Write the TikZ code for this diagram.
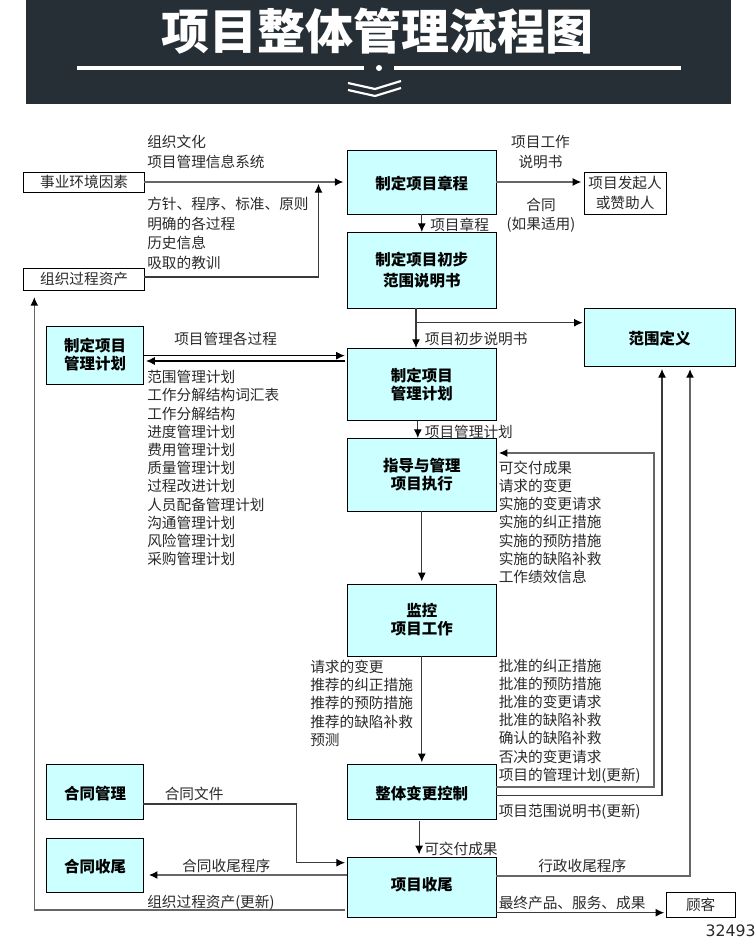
\documentclass[tikz,border=0pt]{standalone}
\usepackage{fontspec}
\setmainfont{Noto Sans CJK SC}
\newfontfamily\numfont{DejaVu Sans}
\usetikzlibrary{arrows.meta}
\definecolor{bandcolor}{HTML}{262F35}
\definecolor{boxcolor}{HTML}{CCFFFF}
\definecolor{txtcolor}{HTML}{2A2A2A}
\definecolor{flowcolor}{HTML}{3A3A3A}
\definecolor{greycolor}{HTML}{666666}
\tikzset{
	procbox/.style={draw, fill=boxcolor, line width=0.7pt, inner sep=0pt, outer sep=0pt, align=center,
		font=\fontsize{11.6}{13.5}\selectfont\bfseries, minimum width=111.5pt,
		execute at begin node={\rule{0pt}{12.5pt}}},
	twoline/.style={execute at begin node={\rule{0pt}{14.5pt}}},
	sidebox/.style={procbox, minimum width=72.5pt},
	srcbox/.style={draw, fill=white, line width=0.7pt, inner sep=0pt, outer sep=0pt, align=center,
		text=txtcolor, font=\fontsize{11}{15}\selectfont},
	lbl/.style={inner sep=0pt, anchor=west, align=left, text=txtcolor, font=\fontsize{11}{13.65}\selectfont},
	lblwide/.style={lbl, font=\fontsize{11}{14.6}\selectfont},
	flow/.style={->, draw=flowcolor, line width=0.8pt},
	greyflow/.style={flow, draw=greycolor, line width=1.1pt},
}
\begin{document}
\begin{tikzpicture}[x=0.75pt, y=-0.75pt, >={Latex[length=6.5pt,width=6pt,color=black]}]
	\useasboundingbox (0,0) rectangle (756,945);

	\fill[bandcolor] (26,0) rectangle (731,104);
	\node[text=white, inner sep=0pt, font=\fontsize{36}{40}\selectfont\bfseries] (title) at (377,31) {项目整体管理流程图};
	\fill[white] (77,66.5) rectangle (364,70.5);
	\fill[white] (394,66.5) rectangle (681,70.5);
	\fill[white] (379,68) circle (3);
	\draw[white, line width=1.6pt] (348,83) -- (375,89) -- (401,81);
	\draw[white, line width=1.6pt] (348,90) -- (375,96) -- (401,88);

	\node[srcbox, minimum width=90.4pt, minimum height=15pt] (env) at (84.1,182) {事业环境因素};
	\node[srcbox, minimum width=90.4pt, minimum height=16.5pt] (assets) at (84.1,279) {组织过程资产};
	\node[srcbox, minimum width=61.6pt, minimum height=31.5pt] (sponsor) at (625.1,193) {项目发起人\\或赞助人};
	\node[srcbox, minimum width=51.75pt, minimum height=18.75pt] (customer) at (700.7,904.5) {顾客};

	\node[procbox, minimum height=48pt] (charter) at (421.8,182) {制定项目章程};
	\node[procbox, minimum height=57pt] (prelim) at (421.8,270) {制定项目初步\\[2.5pt]范围说明书};
	\node[procbox, twoline, minimum height=54.5pt] (plan) at (421.8,384.3) {制定项目\\管理计划};
	\node[procbox, twoline, minimum height=54.75pt] (direct) at (421.8,474.5) {指导与管理\\项目执行};
	\node[procbox, twoline, minimum height=54pt] (monitor) at (421.8,620) {监控\\项目工作};
	\node[procbox, minimum height=40.9pt] (icc) at (421.8,792.2) {整体变更控制};
	\node[procbox, minimum height=45pt] (closure) at (421.8,887) {项目收尾\rule[-7.5pt]{0pt}{7.5pt}};

	\node[procbox, minimum width=113.4pt, minimum height=44pt] (scope) at (659.6,337.3) {范围定义};
	\node[sidebox, twoline, minimum height=43.5pt] (planside) at (95.1,355) {制定项目\\管理计划};
	\node[sidebox, minimum height=40.9pt] (contract) at (95.1,792.2) {合同管理};
	\node[sidebox, minimum height=40.5pt] (contractend) at (95.1,865) {合同收尾};

	\coordinate (assetsin) at (318.5,184);
	\coordinate (branch) at (416,322.7);
	\coordinate (feedturn) at (654,787);
	\coordinate (scopein) at (662,369);
	\coordinate (adminin) at (690,369);
	\coordinate (contractturn) at (296.6,804);
	\coordinate (contractin) at (345,862.7);
	\coordinate (assetsback) at (34.3,297);

	\draw[greyflow] (env.east) -- ([xshift=-3pt]charter.west);
	\draw[flow] ([yshift=1.5pt]assets.east) -| (assetsin);
	\draw[greyflow] (charter.east) -- ([xshift=-2pt]sponsor.west |- charter.east);
	\draw[flow] (charter.south) -- (prelim.north);
	\draw[flow] (branch |- prelim.south) -- (branch |- plan.north);
	\draw[flow] (branch) -- ([xshift=-1pt]scope.west |- branch);
	\draw[flow, draw=black] ([yshift=-0.5pt]planside.east) -- ([xshift=-2pt,yshift=-0.5pt]plan.west |- planside.east);
	\draw[flow, draw=black] ([xshift=-2pt,yshift=-4.5pt]plan.west |- planside.east) -- ([xshift=2pt,yshift=-4.5pt]planside.east);
	\draw[flow] ([xshift=-3pt]plan.south) -- ([xshift=-3pt]direct.north);
	\draw[flow] (direct.south) -- ([yshift=2pt]monitor.north);
	\draw[flow] (monitor.south) -- ([yshift=2pt]icc.north);
	\draw[greyflow] (icc.east |- feedturn) -- (feedturn) |- ([xshift=2pt]direct.east |- 0,453);
	\draw[flow] (icc.east |- 0,795.7) -| (scopein);
	\draw[greyflow] (closure.east |- 0,876) -| (adminin);
	\draw[flow] ([xshift=-2pt,yshift=-1.5pt]icc.south) -- ([xshift=-2pt,yshift=2pt]closure.north);
	\draw[flow] (contract.east |- contractturn) -- (contractturn) |- (contractin);
	\draw[greyflow] (closure.west |- 0,875) -- ([xshift=4pt]contractend.east |- 0,875);
	\draw[greyflow] ([xshift=-1.5pt]closure.west |- 0,910) -| (assetsback);
	\draw[flow] (closure.east |- 0,912.7) -- ([xshift=-1.5pt]customer.west |- 0,912.7);

	\node[lblwide] (envnote) at (147,152) {组织文化\\项目管理信息系统};
	\node[lblwide] (assetsnote) at (147,233.5) {方针、程序、标准、原则\\明确的各过程\\历史信息\\吸取的教训};
	\node[lblwide, anchor=center, align=center] (sownote) at (540.5,152) {项目工作\\说明书};
	\node[lblwide, anchor=center, align=center] (agreenote) at (541,215) {合同\\(如果适用)};
	\node[lbl] (charternote) at (430,225) {项目章程};
	\node[lbl] (prelimnote) at (424.6,339) {项目初步说明书};
	\node[lbl] (processnote) at (174,339) {项目管理各过程};
	\node[lbl] (plannote) at (147,468) {范围管理计划\\工作分解结构词汇表\\工作分解结构\\进度管理计划\\费用管理计划\\质量管理计划\\过程改进计划\\人员配备管理计划\\沟通管理计划\\风险管理计划\\采购管理计划};
	\node[lbl] (planout) at (424.6,431.7) {项目管理计划};
	\node[lbl] (directnote) at (498.5,522.3) {可交付成果\\请求的变更\\实施的变更请求\\实施的纠正措施\\实施的预防措施\\实施的缺陷补救\\工作绩效信息};
	\node[lbl] (monitornote) at (310,703.2) {请求的变更\\推荐的纠正措施\\推荐的预防措施\\推荐的缺陷补救\\预测};
	\node[lbl] (iccnote) at (498.5,721) {批准的纠正措施\\批准的预防措施\\批准的变更请求\\批准的缺陷补救\\确认的缺陷补救\\否决的变更请求\\项目的管理计划(更新)};
	\node[lbl] (scopenote) at (498.5,812) {项目范围说明书(更新)};
	\node[lbl] (contractnote) at (164.5,793.7) {合同文件};
	\node[lbl] (delivernote) at (424,848.7) {可交付成果};
	\node[lbl] (contractendnote) at (182,865.7) {合同收尾程序};
	\node[lbl] (adminnote) at (538,865.7) {行政收尾程序};
	\node[lbl] (assetsupdate) at (147,902.7) {组织过程资产(更新)};
	\node[lbl] (productnote) at (498.5,902.7) {最终产品、服务、成果};

	\node[inner sep=0pt, anchor=east, text=txtcolor, font=\fontsize{11.8}{14}\numfont] (imgnum) at (756,931) {32493};
\end{tikzpicture}
\end{document}
